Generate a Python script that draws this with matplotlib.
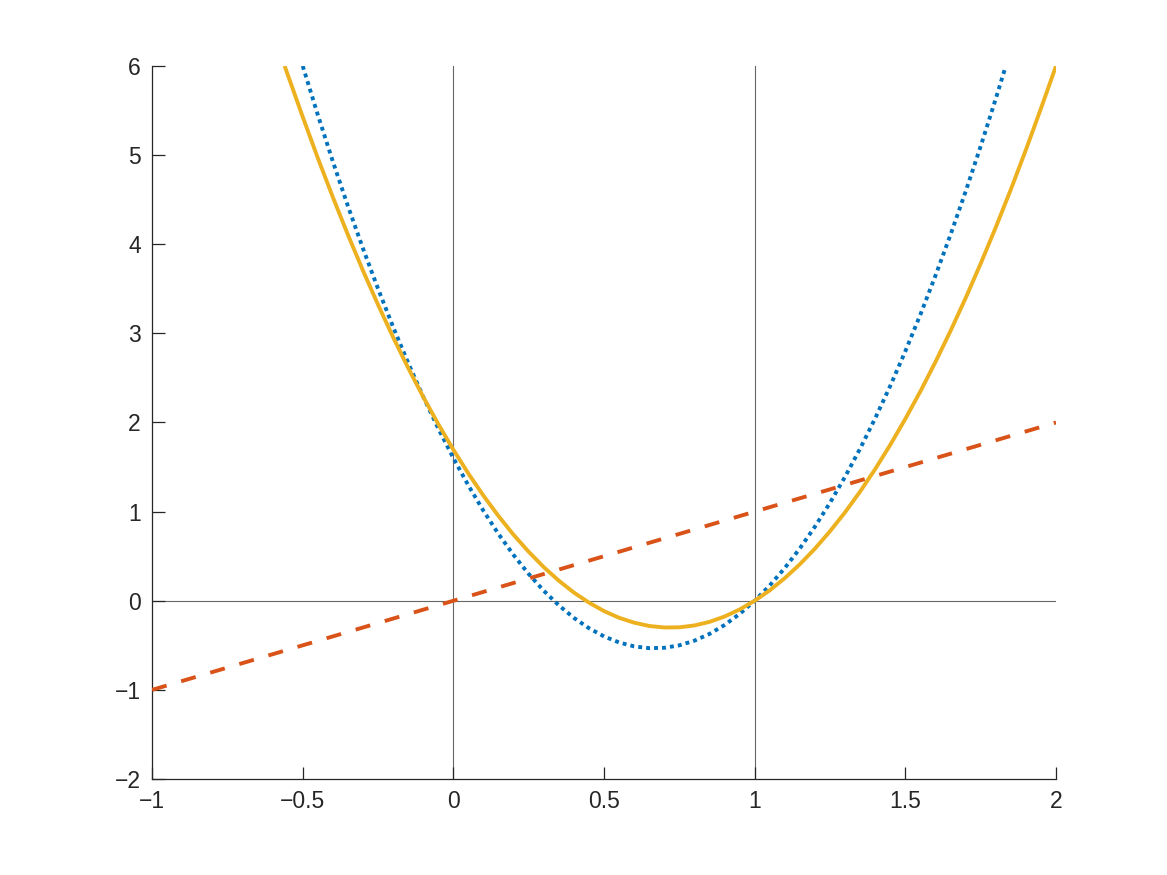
import matplotlib.pyplot as plt

# values
x_blue = [-0.5, -0.45, -0.4, -0.35, -0.3, -0.25, -0.2, -0.15, -0.1, -0.05,
          0.0, 0.05, 0.1, 0.15, 0.2, 0.25, 0.3, 0.35, 0.4, 0.45, 0.5, 0.55,
          0.6, 0.65, 0.7, 0.75, 0.8, 0.85, 0.9, 0.95, 1.0, 1.05, 1.1, 1.15,
          1.2, 1.25, 1.3, 1.35, 1.4, 1.45, 1.5, 1.55, 1.6, 1.65, 1.7, 1.75,
          1.8, 1.83]
y_blue = [6.0, 5.452, 4.928, 4.428, 3.952, 3.5, 3.072, 2.668, 2.288, 1.932,
          1.6, 1.292, 1.008, 0.748, 0.512, 0.3, 0.112, -0.052, -0.192, -0.308,
          -0.4, -0.468, -0.512, -0.532, -0.528, -0.5, -0.448, -0.372, -0.272,
          -0.148, 0.0, 0.172, 0.368, 0.588, 0.832, 1.1, 1.392, 1.708, 2.048,
          2.412, 2.8, 3.212, 3.648, 4.108, 4.592, 5.1, 5.632, 5.963]

x_line = [-1.0, 2.0]
y_line = [-1.0, 2.0]

x_yellow = [-0.56, -0.5, -0.45, -0.4, -0.35, -0.3, -0.25, -0.2, -0.15, -0.1,
            -0.05, 0.0, 0.05, 0.1, 0.15, 0.2, 0.25, 0.3, 0.35, 0.4, 0.45, 0.5,
            0.55, 0.6, 0.65, 0.7, 0.75, 0.8, 0.85, 0.9, 0.95, 1.0, 1.05, 1.1,
            1.15, 1.2, 1.25, 1.3, 1.35, 1.4, 1.45, 1.5, 1.55, 1.6, 1.65, 1.7,
            1.75, 1.8, 1.85, 1.9, 1.95, 2.0]
y_yellow = [6.0, 5.429, 4.968, 4.528, 4.106, 3.704, 3.321, 2.957, 2.612,
            2.287, 1.981, 1.694, 1.426, 1.178, 0.949, 0.739, 0.549, 0.377,
            0.225, 0.092, -0.021, -0.116, -0.191, -0.246, -0.283, -0.300,
            -0.298, -0.277, -0.237, -0.177, -0.098, 0.0, 0.117, 0.254, 0.410,
            0.585, 0.780, 0.993, 1.226, 1.478, 1.750, 2.041, 2.350, 2.680,
            3.028, 3.396, 3.783, 4.189, 4.614, 5.059, 5.523, 6.0]

vlines = [0, 1]
hlines = [0]
xticks = [-1, -0.5, 0, 0.5, 1, 1.5, 2]
yticks = [-2, -1, 0, 1, 2, 3, 4, 5, 6]

plt.rcParams["font.family"] = ["Liberation Sans", "DejaVu Sans"]

fig = plt.figure(figsize=(11.67, 8.75), dpi=100)
ax = fig.add_axes([0.1303, 0.1097, 0.7746, 0.8149])

for v in vlines:
    ax.axvline(v, color="0.4", lw=0.8, zorder=1)
for h in hlines:
    ax.axhline(h, color="0.4", lw=0.8, zorder=1)

ax.plot(x_blue, y_blue, color="#0072BD", lw=2.8, ls=(0, (1, 1.05)), zorder=3)
ax.plot(x_line, y_line, color="#D95319", lw=2.8, ls=(0, (3.9, 3.9)), zorder=3)
ax.plot(x_yellow, y_yellow, color="#EDB120", lw=2.8, zorder=4,
        solid_capstyle="butt")

ax.set_xlim(-1, 2)
ax.set_ylim(-2, 6)
ax.set_xticks(xticks)
ax.set_yticks(yticks)
ax.set_xticklabels([f"{t:g}".replace("-", "\u2212") for t in xticks])
ax.set_yticklabels([f"{t:g}".replace("-", "\u2212") for t in yticks])

for side in ["top", "right"]:
    ax.spines[side].set_visible(False)
for side in ["left", "bottom"]:
    ax.spines[side].set_color("#262626")
    ax.spines[side].set_linewidth(0.9)
ax.tick_params(direction="in", length=9, width=0.9, colors="#262626",
               labelsize=16.5, pad=8)

fig.savefig("out.png", dpi=100)
